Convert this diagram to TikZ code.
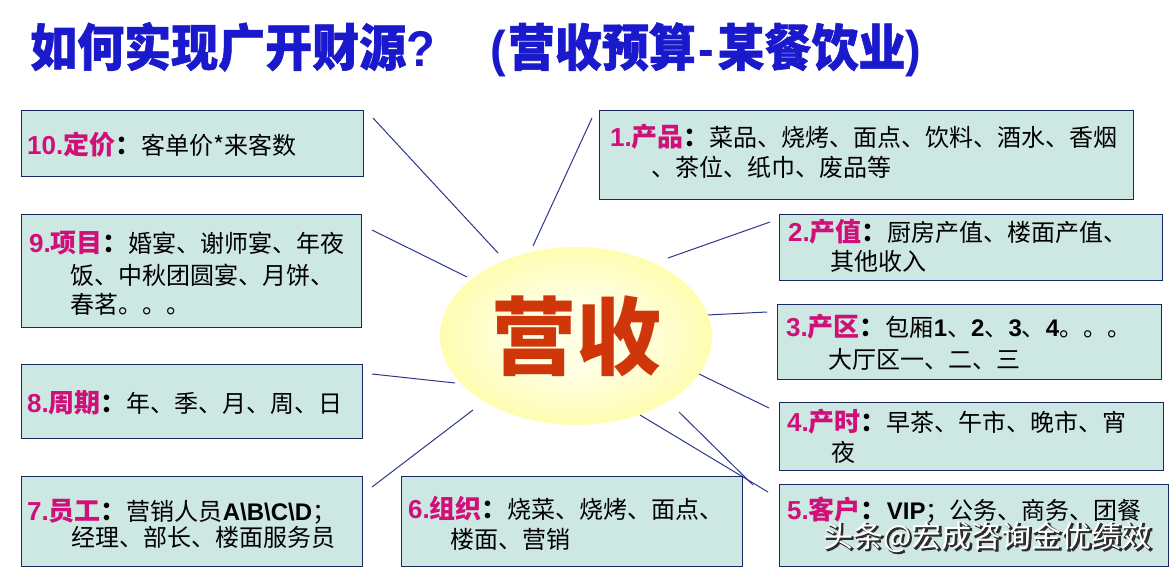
\documentclass[tikz,border=0pt]{standalone}
\usepackage{fontspec}
\usepackage{graphicx}
\usetikzlibrary{shapes.geometric}
\setmainfont{Noto Sans CJK SC}
\newfontfamily\lsans{Liberation Sans}
\newfontfamily\titlef{Noto Sans CJK SC}[BoldFeatures={FakeBold=1.2}]
\newfontfamily\wmout{Noto Sans CJK SC}[FakeBold=4]
\definecolor{titleblue}{RGB}{26,26,204}
\definecolor{labmag}{RGB}{208,16,120}
\definecolor{centerred}{RGB}{207,55,10}
\definecolor{boxfill}{RGB}{205,231,226}
\definecolor{boxline}{RGB}{25,40,95}
\definecolor{connblue}{RGB}{45,55,140}
\definecolor{elin}{RGB}{255,255,228}
\definecolor{elmid}{RGB}{255,252,160}
\definecolor{elout}{RGB}{253,240,85}
\definecolor{wmshadow}{RGB}{45,45,45}
\pgfdeclareradialshading{ellshade}{\pgfpoint{0bp}{0bp}}{color(0bp)=(elin); color(10bp)=(elin); color(30bp)=(elmid); color(44bp)=(elout); color(50bp)=(elout)}
\newcommand\mylab[2]{{\fontsize{26}{30}\selectfont\bfseries\color{labmag}{\lsans #1}#2\color{black}：}}
\newcommand\lat[1]{{\lsans\bfseries #1}}
\newcommand\tlat[1]{{\lsans\bfseries #1}}
\tikzset{
  box/.style={draw=boxline, fill=boxfill, line width=1.3pt, inner sep=0pt, anchor=north west},
  body/.style={anchor=base west, inner sep=0pt, font=\fontsize{24}{28}\selectfont, text=black},
  conn/.style={draw=connblue, line width=1pt},
  wm/.style={anchor=base west, inner sep=0pt, font=\fontsize{30}{34}\selectfont},
  titletext/.style={anchor=base west, inner sep=0pt, text=titleblue, font=\fontsize{47}{50}\selectfont\titlef\bfseries},
}
\begin{document}
\begin{tikzpicture}[x=1pt, y=-1pt]
\useasboundingbox[fill=white] (0,0) rectangle (1172,568);

% title
\node[titletext] (title1) at (30,66) {\scalebox{1}[1.07]{如何实现广开财源\tlat{?}}};
\node[titletext] (title2) at (490,66) {\scalebox{1}[1.07]{\tlat{(}\hspace{2pt}营收预算\hspace{3pt}\tlat{-}\hspace{3pt}某餐饮业\tlat{)}}};

% connector end points
\coordinate (p10) at (373,118); \coordinate (q10) at (498,253);
\coordinate (p9)  at (372,230); \coordinate (q9)  at (467,277);
\coordinate (p1)  at (592,118); \coordinate (q1)  at (533,246);
\coordinate (p2)  at (770,222); \coordinate (q2)  at (668,258);
\coordinate (p3)  at (767,312); \coordinate (q3)  at (707,315);
\coordinate (p4)  at (769,408); \coordinate (q4)  at (697,373);
\coordinate (p5a) at (768,492); \coordinate (q5a) at (640,415);
\coordinate (p5b) at (753,485); \coordinate (q5b) at (679,412);
\coordinate (p8)  at (372,374); \coordinate (q8)  at (455,383);
\coordinate (p7)  at (372,487); \coordinate (q7)  at (473,410);
\foreach \a/\b in {p10/q10,p9/q9,p1/q1,p2/q2,p3/q3,p4/q4,p5a/q5a,p5b/q5b,p8/q8,p7/q7}
  \draw[conn] (\a) -- (\b);

% central ellipse
\node[ellipse, shading=ellshade, minimum width=272pt, minimum height=178pt, inner sep=0pt,
      text=centerred, font=\fontsize{85}{90}\selectfont\bfseries] (ell) at (576,336) {营收};

% boxes
\node[box, minimum width=342pt, minimum height=66pt]  (b10) at (21,110) {};
\node[box, minimum width=340pt, minimum height=113pt] (b9)  at (21,214) {};
\node[box, minimum width=341pt, minimum height=74pt]  (b8)  at (21,364) {};
\node[box, minimum width=341pt, minimum height=90pt]  (b7)  at (21,476) {};
\node[box, minimum width=341pt, minimum height=90pt]  (b6)  at (401,476) {};
\node[box, minimum width=534pt, minimum height=89pt]  (b1)  at (599,110) {};
\node[box, minimum width=383pt, minimum height=66pt]  (b2)  at (779,214) {};
\node[box, minimum width=384pt, minimum height=75pt]  (b3)  at (777,304) {};
\node[box, minimum width=384pt, minimum height=68pt]  (b4)  at (779,402) {};
\node[box, minimum width=389pt, minimum height=82pt]  (b5)  at (779,484) {};

% texts
\node[body] (t10)  at (27,154)  {\mylab{10.}{定价}客单价*来客数};
\node[body] (t9a)  at (29,252)  {\mylab{9.}{项目}婚宴、谢师宴、年夜};
\node[body] (t9b)  at (70,284)  {饭、中秋团圆宴、月饼、};
\node[body] (t9c)  at (70,313)  {春茗。。。};
\node[body] (t8)   at (27,412)  {\mylab{8.}{周期}年、季、月、周、日};
\node[body] (t7a)  at (27,520)  {\mylab{7.}{员工}营销人员\lat{A\textbackslash B\textbackslash C\textbackslash D}；};
\node[body] (t7b)  at (71,546)  {经理、部长、楼面服务员};
\node[body] (t6a)  at (408,518) {\mylab{6.}{组织}烧菜、烧烤、面点、};
\node[body] (t6b)  at (450,548) {楼面、营销};
\node[body] (t1a)  at (610,146) {\mylab{1.}{产品}菜品、烧烤、面点、饮料、酒水、香烟};
\node[body] (t1b)  at (651,176) {、茶位、纸巾、废品等};
\node[body] (t2a)  at (788,241) {\mylab{2.}{产值}厨房产值、楼面产值、};
\node[body] (t2b)  at (830,270) {其他收入};
\node[body] (t3a)  at (786,336) {\mylab{3.}{产区}包厢\lat{1}、\lat{2}、\lat{3}、\lat{4}。。。};
\node[body] (t3b)  at (828,368) {大厅区一、二、三};
\node[body] (t4a)  at (787,431) {\mylab{4.}{产时}早茶、午市、晚市、宵};
\node[body] (t4b)  at (831,461) {夜};
\node[body] (t5a)  at (787,519) {\mylab{5.}{客户}\lat{VIP}；公务、商务、团餐};

% watermark (white text with a dark outline)
\node[wm, text=wmshadow, font=\fontsize{30}{34}\selectfont\wmout] (wmo) at (824.5,548.5) {头条@宏成咨询金优绩效};
\node[wm, text=white] (wm) at (823,547) {头条@宏成咨询金优绩效};
\end{tikzpicture}
\end{document}
